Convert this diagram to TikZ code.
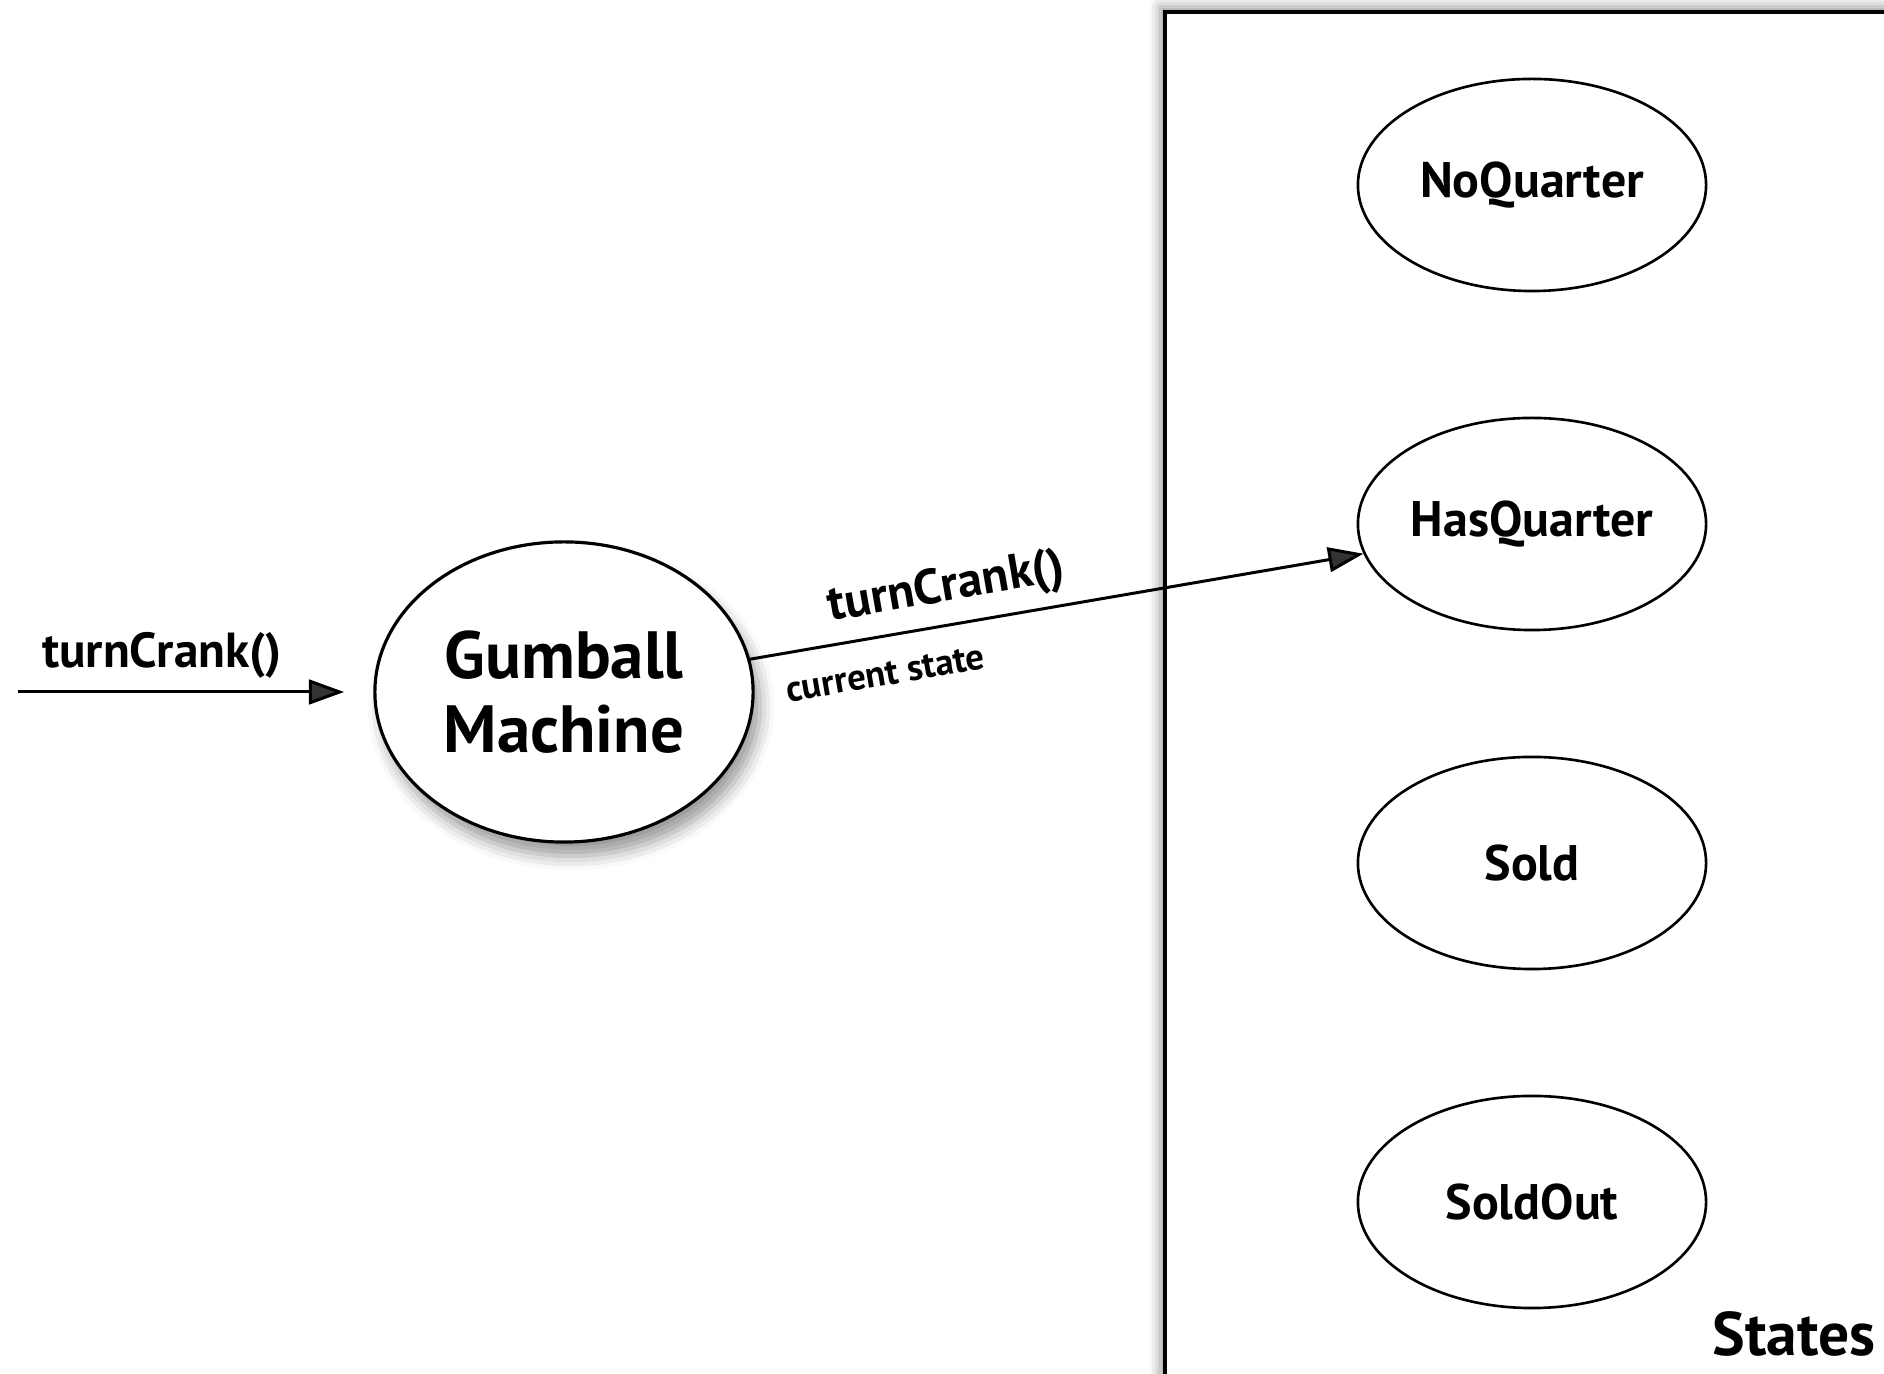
\documentclass[tikz,border=0pt]{standalone}
\usepackage{fontspec}
\setmainfont{PT Sans}
\usetikzlibrary{shapes.geometric,arrows.meta,shadows.blur}
\tikzset{
  state/.style={draw,ellipse,line width=0.75pt,fill=white,inner sep=0pt,
    minimum width=3.48cm,minimum height=2.12cm,
    font=\fontsize{14.2}{16}\selectfont\bfseries},
  machine/.style={draw,ellipse,line width=0.9pt,fill=white,
    minimum width=3.78cm,minimum height=3.0cm,align=center,
    font=\fontsize{19}{21}\selectfont\bfseries,
    blur shadow={shadow xshift=2pt,shadow yshift=-4pt,shadow blur radius=4pt}},
  frame/.style={draw,line width=0.9pt,fill=white,
    blur shadow={shadow xshift=-1.5pt,shadow yshift=1.5pt,shadow blur radius=3pt}},
  call/.style={font=\fontsize{14}{16}\selectfont\bfseries},
  small/.style={font=\fontsize{10.5}{12}\selectfont\bfseries},
  flow/.style={-{Triangle[length=10pt,width=7pt]},line width=0.85pt},
}
\begin{document}
\begin{tikzpicture}[x=0.01cm,y=-0.01cm]
  \useasboundingbox (0,0) rectangle (1884,1374);
  \clip (0,0) rectangle (1884,1374);
  % states box
  \draw[frame] (1165,12) rectangle (1950,1450);
  \node[font=\fontsize{17.5}{19}\selectfont\bfseries] (title) at (1794,1334) {States};
  \node[state] (noq) at (1532,185) {NoQuarter};
  \node[state] (hasq) at (1532,524) {HasQuarter};
  \node[state] (sold) at (1532,863) {Sold};
  \node[state] (soldout) at (1532,1202) {SoldOut};
  % machine
  \node[machine] (gm) at (564,692) {Gumball\\Machine};
  % calls
  \coordinate (in) at (18,692);
  \draw[flow,shorten >=8.3pt] (in) -- (gm.west);
  \node[call] (incall) at (162,655) {turnCrank()};
  \draw[flow] (gm.10) -- (hasq.190)
    node[call,sloped,above,pos=0.33] (outcall) {turnCrank()}
    node[small,sloped,below=3.5pt,pos=0.21] (cur) {current state};
\end{tikzpicture}
\end{document}
